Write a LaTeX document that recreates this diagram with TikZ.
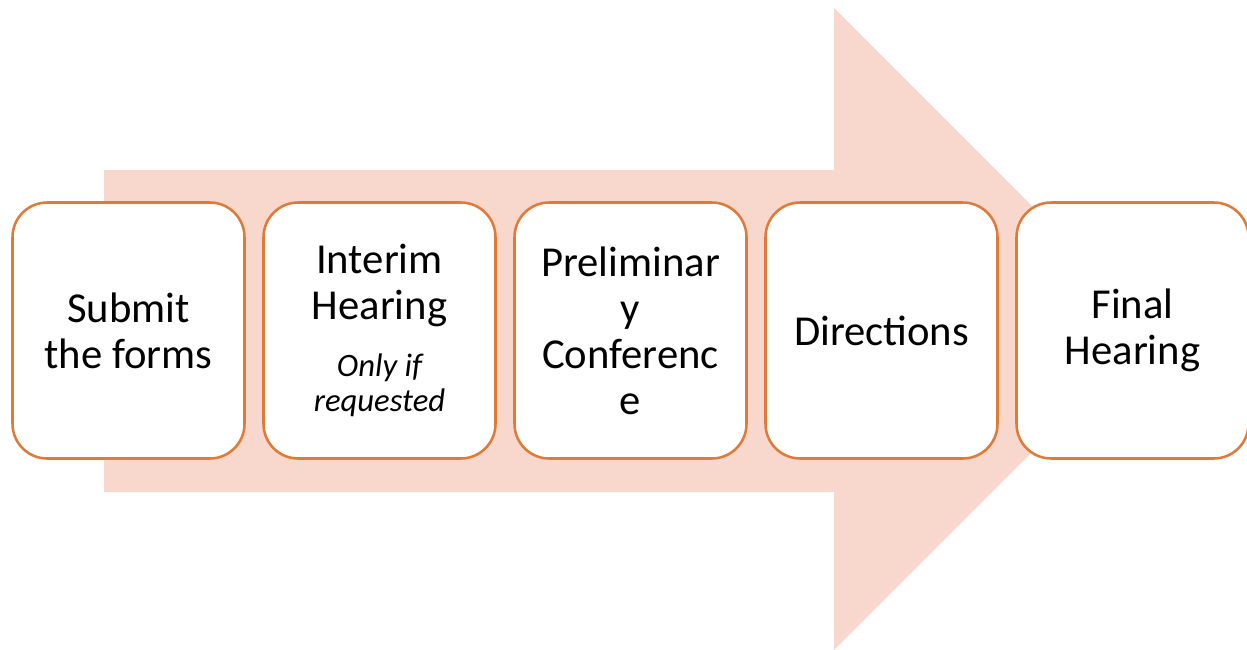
\documentclass[tikz,border=0pt]{standalone}
\usepackage{fontspec}
\setmainfont{Carlito}
\usetikzlibrary{positioning}

\definecolor{arrowfill}{HTML}{F8D7CC}
\definecolor{boxline}{HTML}{E07A38}
\newcommand{\noteit}{\itshape\fontsize{24.5}{26.3}\selectfont}

\tikzset{
  stage/.style={draw=boxline, line width=1.9pt, fill=white,
    rounded corners=26pt, minimum width=174pt, minimum height=192pt,
    inner sep=0pt, align=center, font=\fontsize{32}{34.5}\selectfont},
}

\begin{document}
\begin{tikzpicture}[x=0.75pt, y=-0.75pt, node distance=12.35pt]
    \useasboundingbox (0,0) rectangle (1247,650);

    % Background arrow
    \fill[arrowfill] (104,170) -- (834,170) -- (834,8) -- (1155,329)
        -- (834,650) -- (834,492) -- (104,492) -- cycle;

    % Stages
    \node[stage] (submit) at (128.5,330.5) {Submit\\the forms};
    \node[stage, right=of submit] (interim)
        {Interim\\Hearing\\[8.2pt]{\noteit Only if}\\[-8.2pt]{\noteit requested}};
    \node[stage, right=of interim] (prelim) {Preliminar\\y\\Conferenc\\e};
    \node[stage, right=of prelim] (directions) {Directions};
    \node[stage, right=of directions] (final) {Final\\Hearing};
\end{tikzpicture}
\end{document}
